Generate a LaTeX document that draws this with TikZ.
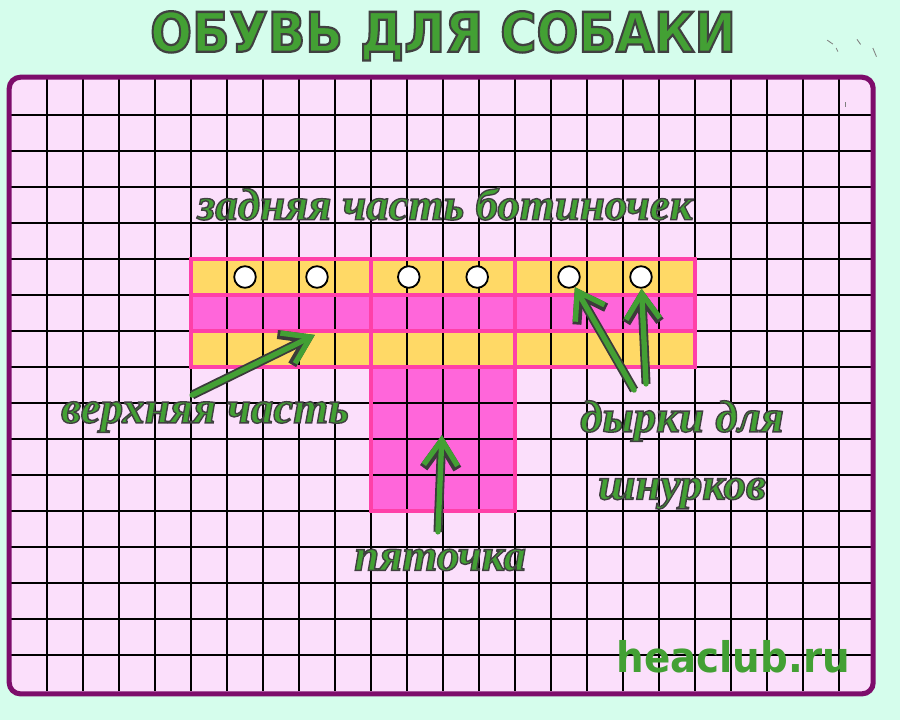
\documentclass[tikz,border=0pt]{standalone}
\usepackage{fontspec}
\setmainfont{Liberation Serif}
\newfontfamily\titlefont{DejaVu Sans}
\usetikzlibrary{arrows.meta}
\definecolor{mint}{HTML}{D5FDEC}
\definecolor{paper}{HTML}{FBDFFB}
\definecolor{plum}{HTML}{7D0D6B}
\definecolor{sun}{HTML}{FFD966}
\definecolor{rose}{HTML}{FF66DA}
\definecolor{roseline}{HTML}{FF40A8}
\definecolor{leaf}{HTML}{43A034}
\definecolor{shade}{HTML}{3B3B3B}
% green letters with a dark rim
\newcommand\rimmed[2][1.0]{\special{pdf:literal direct 2 Tr #1 w 0.25 0.25 0.25 RG}#2\special{pdf:literal direct 0 Tr}}

\begin{document}
\begin{tikzpicture}[x=0.9cm,y=-0.9cm,
    gridline/.style={line width=1.1pt,black},
    stripline/.style={line width=2.6pt,roseline},
    hole/.style={circle,draw,fill=white,line width=1.3pt,minimum size=5.4mm,inner sep=0pt},
    label/.style={text=leaf,font=\fontsize{32}{40}\selectfont\bfseries\itshape},
    pointer/.style={line width=3.8pt,leaf,line cap=round,-{Straight Barb[length=18pt,width=24pt]},
      preaction={draw=shade,line width=6.4pt,-{Straight Barb[length=18pt,width=24pt]}}}]
  \useasboundingbox[fill=mint] (-0.3056,-2.1944) rectangle (24.6944,17.8056);
  \fill[paper,rounded corners=8pt] (-0.05,-0.05) rectangle (23.95,17.08);

  % strips and heel
  \fill[sun] (5,5) rectangle (19,6);
  \fill[rose] (5,6) rectangle (19,7);
  \fill[sun] (5,7) rectangle (19,8);
  \fill[rose] (10,8) rectangle (14,12);

  % squared paper
  \foreach \i in {1,...,23} \draw[gridline] (\i,0) -- (\i,17);
  \foreach \j in {1,...,16} \draw[gridline] (0,\j) -- (24,\j);

  \draw[stripline] (5,5) rectangle (19,8);
  \draw[stripline] (5,6) -- (19,6) (5,7) -- (19,7);
  \draw[stripline] (10,5) -- (10,12) -- (14,12) -- (14,5);

  \draw[plum,line width=3.6pt,rounded corners=8pt] (-0.05,-0.05) rectangle (23.95,17.08);

  % lace holes
  \node[hole] (h1) at (6.5,5.5) {};
  \node[hole] (h2) at (8.5,5.5) {};
  \node[hole] (h3) at (11.05,5.5) {};
  \node[hole] (h4) at (12.95,5.5) {};
  \node[hole] (h5) at (15.5,5.5) {};
  \node[hole] (h6) at (17.5,5.5) {};

  % texts
  \node[text=leaf,font=\titlefont\fontsize{39}{44}\selectfont\bfseries] (title) at (12,-1.2)
    {\scalebox{0.9}[1]{\rimmed[1.6]{ОБУВЬ ДЛЯ СОБАКИ}}};
  \node[label] (back) at (12.06,3.47) {\rimmed{задняя часть ботиночек}};
  \node[label] (upper) at (5.39,9.39) {\rimmed{верхняя часть}};
  \node[label] (heel) at (11.92,13.36) {\rimmed{пяточка}};
  \node[label,align=center,font=\fontsize{32}{48}\selectfont\bfseries\itshape] (laces) at (18.64,10.44)
    {\rimmed{дырки для}\\\rimmed{шнурков}};
  \node[text=leaf,font=\titlefont\fontsize{30}{34}\selectfont\bfseries] (site) at (20.06,16.05)
    {\scalebox{0.92}[1]{heaclub.ru}};

  % arrows
  \coordinate (t1) at (5.03,8.78);
  \coordinate (p1) at (8.44,7.11);
  \coordinate (t2) at (11.86,12.58);
  \coordinate (p2) at (11.97,9.89);
  \coordinate (t3) at (17.31,8.64);
  \coordinate (t4) at (17.64,8.47);
  \draw[pointer] (t1) -- (p1);
  \draw[pointer] (t2) -- (p2);
  \draw[pointer] (t3) -- (h5);
  \draw[pointer] (t4) -- (h6);

  % little marks top right
  \foreach \a/\b/\c/\d in {22.67/-1.08/22.83/-0.97, 22.92/-0.86/22.97/-0.76,
      23.5/-1.1/23.6/-0.96, 23.94/-0.86/24.04/-0.62, 23.17/0.64/23.17/0.78}
    \draw[gray,line width=0.6pt] (\a,\b) -- (\c,\d);
\end{tikzpicture}
\end{document}
